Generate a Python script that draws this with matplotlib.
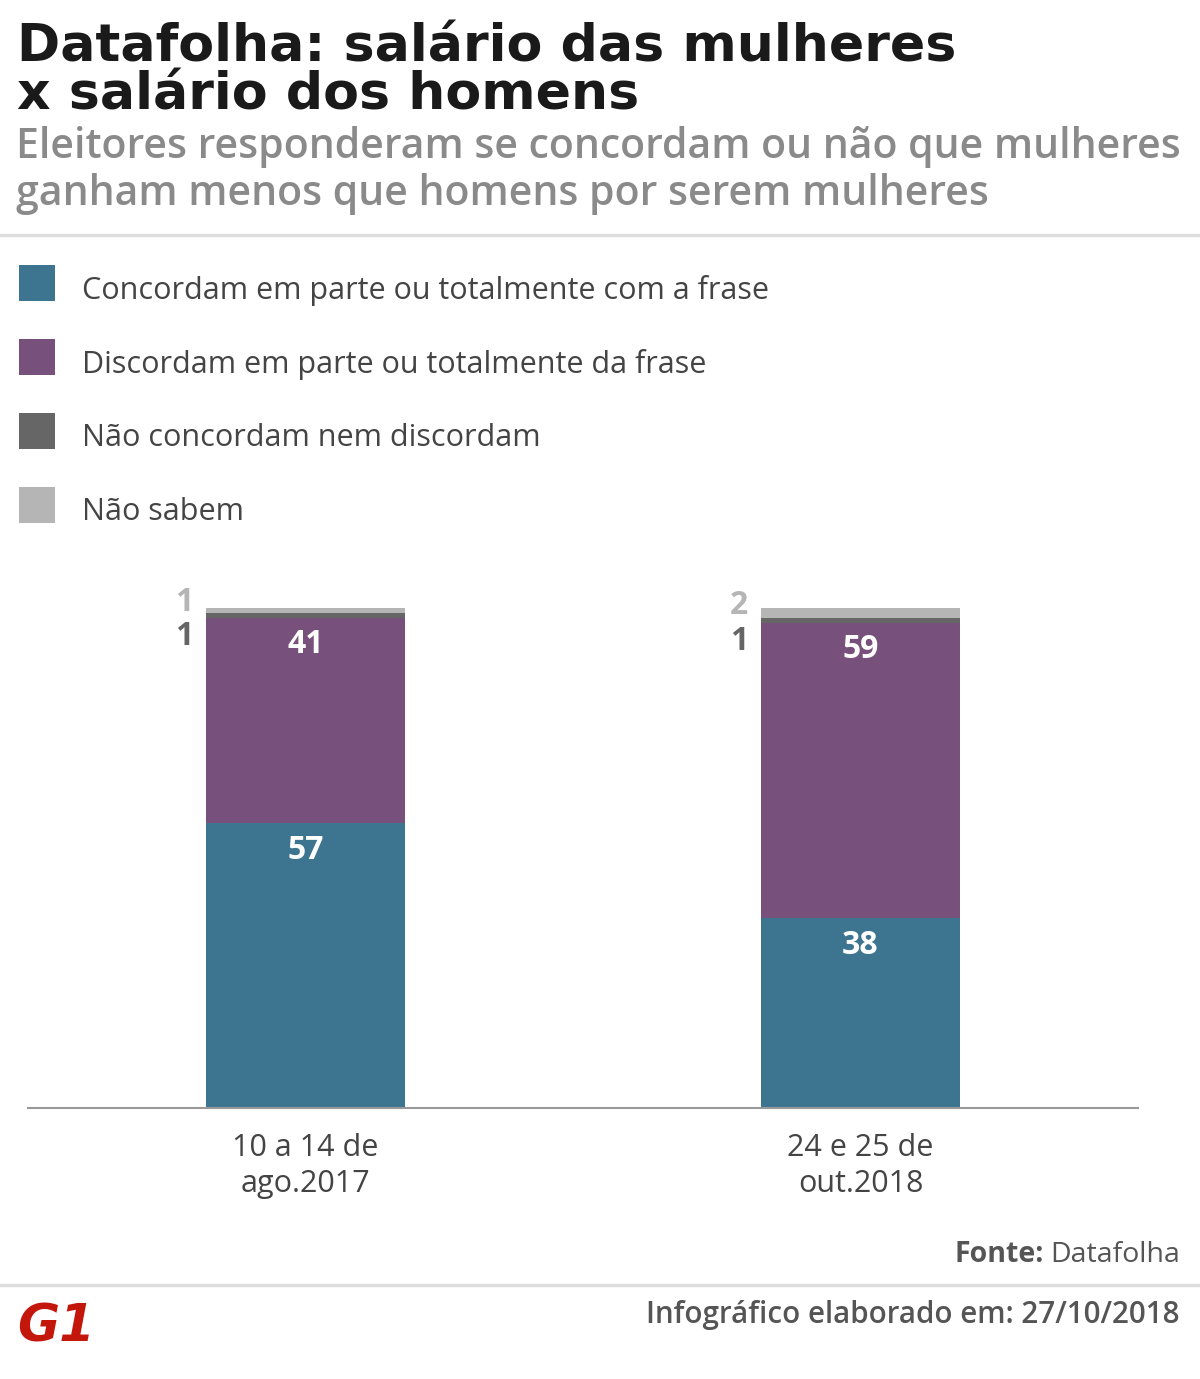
import numpy as np
import matplotlib
matplotlib.use("Agg")
import matplotlib.pyplot as plt
from matplotlib.patches import Rectangle
from matplotlib.lines import Line2D

# ----------
# Data
periods = ["10 a 14 de\nago.2017", "24 e 25 de\nout.2018"]
series_names = ["Concordam em parte ou totalmente com a frase",
                "Discordam em parte ou totalmente da frase",
                "Não concordam nem discordam",
                "Não sabem"]
concordam = [57, 38]
discordam = [41, 59]
nem_nem = [1, 1]
nao_sabem = [1, 2]
# ----------

colors = ["#3d7591", "#77507c", "#666666", "#b5b5b5"]
W, H = 1200, 1379

fig = plt.figure(figsize=(W / 100, H / 100), dpi=100, facecolor="white")

def fx(px):
    return px / W

def fy(py):
    return 1 - py / H

# Title & subtitle
fig.text(fx(17), fy(62), "Datafolha: salário das mulheres", fontsize=37.5,
         fontweight="bold", family="DejaVu Sans", color="#1a1a1a", va="baseline")
fig.text(fx(17), fy(110), "x salário dos homens", fontsize=37.5,
         fontweight="bold", family="DejaVu Sans", color="#1a1a1a", va="baseline")
fig.text(fx(16), fy(158), "Eleitores responderam se concordam ou não que mulheres",
         fontsize=29.5, fontweight="semibold", family="Open Sans", color="#8a8a8a", va="baseline")
fig.text(fx(16), fy(205), "ganham menos que homens por serem mulheres",
         fontsize=29.5, fontweight="semibold", family="Open Sans", color="#8a8a8a", va="baseline")

# separator lines
for py in (235, 1285):
    fig.add_artist(Line2D([0, 1], [fy(py), fy(py)], color="#dddddd", lw=2.5,
                          transform=fig.transFigure))

# Legend
for i, (name, c) in enumerate(zip(series_names, colors)):
    yc = 283 + i * 74
    fig.add_artist(Rectangle((fx(19), fy(yc + 18)), fx(36), 36 / H,
                             facecolor=c, edgecolor="none", transform=fig.transFigure))
    fig.text(fx(82), fy(yc + 7), name, fontsize=22, family="Open Sans",
             color="#444444", va="center")

# Bars
ax = fig.add_axes([fx(28), fy(1108), fx(1138) - fx(28), 500 / H])
x = np.arange(len(periods))
width = 0.36
bottom = np.zeros(len(periods))
for vals, c in zip([concordam, discordam, nem_nem, nao_sabem], colors):
    ax.bar(x, vals, width, bottom=bottom, color=c, edgecolor="none")
    bottom = bottom + np.array(vals)

ax.set_xlim(-0.5, 1.5)
ax.set_ylim(0, 100)
for s in ["top", "right", "left"]:
    ax.spines[s].set_visible(False)
ax.spines["bottom"].set_color("#999999")
ax.spines["bottom"].set_linewidth(1.5)
ax.set_yticks([])
ax.set_xticks(x)
ax.set_xticklabels(periods, fontsize=22, family="Open Sans", color="#444444",
                   linespacing=1.25)
ax.tick_params(axis="x", length=0, pad=18)

# value labels
lab = dict(fontsize=23, fontweight="bold", family="Open Sans")
for i in range(len(periods)):
    top1 = concordam[i]
    top2 = concordam[i] + discordam[i]
    top3 = top2 + nem_nem[i]
    ax.text(x[i], top1 - 5.5, str(concordam[i]), ha="center", va="center",
            color="white", **lab)
    ax.text(x[i], top2 - 5.3, str(discordam[i]), ha="center", va="center",
            color="white", **lab)
    ax.text(x[i] - width / 2 - 0.022, top2 + nem_nem[i] / 2 - 4.2, str(nem_nem[i]),
            ha="right", va="center", color="#666666", clip_on=False, **lab)
    ax.text(x[i] - width / 2 - 0.022, top3 + nao_sabem[i] / 2 + 1.6, str(nao_sabem[i]),
            ha="right", va="center", color="#b5b5b5", clip_on=False, **lab)

# Footer
fig.text(fx(1180), fy(1255), "Datafolha", fontsize=20.5, family="Open Sans",
         color="#555555", ha="right", va="center")
fig.text(fx(1180 - 136), fy(1255), "Fonte:", fontsize=20.5, fontweight="bold",
         family="Open Sans", color="#555555", ha="right", va="center")
fig.text(fx(1180), fy(1315), "Infográfico elaborado em: 27/10/2018", fontsize=21.3,
         fontweight="semibold", family="Open Sans", color="#555555", ha="right", va="center")
fig.text(fx(17), fy(1328), "G1", fontsize=37, fontweight="heavy", style="italic",
         family="DejaVu Sans", color="#c4170c", va="center")

plt.savefig("out.png", dpi=100, facecolor="white")
